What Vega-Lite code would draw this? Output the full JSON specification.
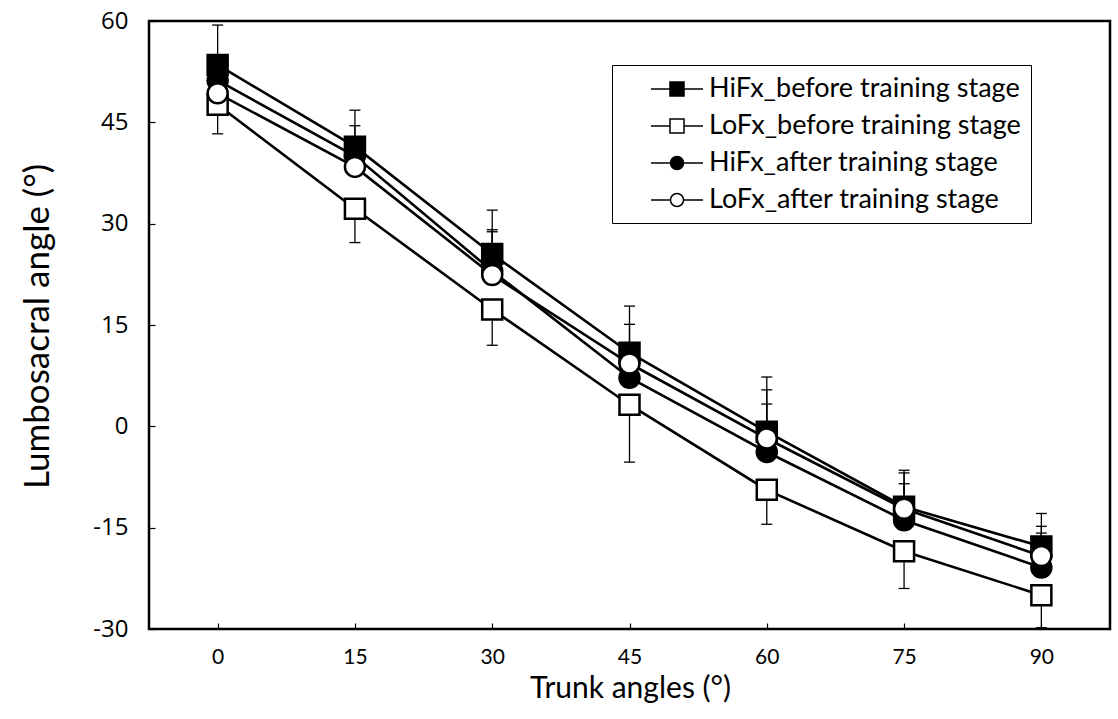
{
  "$schema": "https://vega.github.io/schema/vega-lite/v6.json",
  "width": 961,
  "height": 608,
  "autosize": {"type": "none"},
  "padding": {"left": 149, "top": 21, "right": 8, "bottom": 90},
  "background": "white",
  "config": {
    "view": {"stroke": "black", "strokeWidth": 2.5},
    "axis": {"domain": false, "grid": false, "tickColor": "black", "labelColor": "black", "titleColor": "black", "titleFontWeight": "normal"},
    "legend": {
      "orient": "none",
      "padding": 10,
      "strokeColor": "black",
      "fillColor": "white",
      "labelFont": "Lato",
      "labelFontSize": 27,
      "labelColor": "black",
      "labelLimit": 600,
      "symbolSize": 676,
      "symbolOffset": 41,
      "labelOffset": 18,
      "rowPadding": 10
    }
  },
  "data": {
    "values": [
      {"series": "HiFx_before training stage", "angle": "0", "mean": 53.5, "err": 59.4},
      {"series": "HiFx_before training stage", "angle": "15", "mean": 41.4, "err": 46.8},
      {"series": "HiFx_before training stage", "angle": "30", "mean": 25.5, "err": 32.0},
      {"series": "HiFx_before training stage", "angle": "45", "mean": 10.9, "err": 17.8},
      {"series": "HiFx_before training stage", "angle": "60", "mean": -0.8, "err": 7.3},
      {"series": "HiFx_before training stage", "angle": "75", "mean": -11.9, "err": -6.5},
      {"series": "HiFx_before training stage", "angle": "90", "mean": -17.8, "err": -12.9},
      {"series": "LoFx_before training stage", "angle": "0", "mean": 47.6, "err": 43.3},
      {"series": "LoFx_before training stage", "angle": "15", "mean": 32.2, "err": 27.2},
      {"series": "LoFx_before training stage", "angle": "30", "mean": 17.3, "err": 12.0},
      {"series": "LoFx_before training stage", "angle": "45", "mean": 3.2, "err": -5.3},
      {"series": "LoFx_before training stage", "angle": "60", "mean": -9.4, "err": -14.5},
      {"series": "LoFx_before training stage", "angle": "75", "mean": -18.5, "err": -24.0},
      {"series": "LoFx_before training stage", "angle": "90", "mean": -25.0, "err": -29.8},
      {"series": "HiFx_after training stage", "angle": "0", "mean": 51.2, "err": 54.0},
      {"series": "HiFx_after training stage", "angle": "15", "mean": 40.0, "err": 42.5},
      {"series": "HiFx_after training stage", "angle": "30", "mean": 23.0, "err": 28.8},
      {"series": "HiFx_after training stage", "angle": "45", "mean": 7.2, "err": 12.0},
      {"series": "HiFx_after training stage", "angle": "60", "mean": -3.8, "err": 3.3},
      {"series": "HiFx_after training stage", "angle": "75", "mean": -13.9, "err": -8.5},
      {"series": "HiFx_after training stage", "angle": "90", "mean": -20.9, "err": -15.8},
      {"series": "LoFx_after training stage", "angle": "0", "mean": 49.3, "err": 53.0},
      {"series": "LoFx_after training stage", "angle": "15", "mean": 38.4, "err": 44.5},
      {"series": "LoFx_after training stage", "angle": "30", "mean": 22.4, "err": 29.1},
      {"series": "LoFx_after training stage", "angle": "45", "mean": 9.3, "err": 15.1},
      {"series": "LoFx_after training stage", "angle": "60", "mean": -1.8, "err": 5.4},
      {"series": "LoFx_after training stage", "angle": "75", "mean": -12.2, "err": -6.9},
      {"series": "LoFx_after training stage", "angle": "90", "mean": -19.2, "err": -14.8}
    ]
  },
  "encoding": {
    "x": {
      "field": "angle",
      "type": "ordinal",
      "sort": ["0", "15", "30", "45", "60", "75", "90"],
      "scale": {"type": "point", "padding": 0.5},
      "axis": {
        "title": "Trunk angles (°)",
        "labelAngle": 0,
        "labelFont": "Lato",
        "labelFontSize": 21,
        "labelPadding": 23,
        "tickSize": -6,
        "tickWidth": 1.2,
        "titleFont": "Lato",
        "titleFontSize": 30,
        "titleX": 481,
        "titleY": 59,
        "titleBaseline": "middle",
        "titleAlign": "center"
      }
    }
  },
  "layer": [
    {
      "mark": {"type": "rule", "color": "black", "strokeWidth": 1.3},
      "encoding": {
        "y": {
          "field": "mean",
          "type": "quantitative",
          "scale": {"domain": [-30, 60], "nice": false, "zero": false},
          "axis": {
            "title": "Lumbosacral angle (°)",
            "values": [-30, -15, 0, 15, 30, 45, 60],
            "labelExpr": "'' + datum.value",
            "labelFont": "Open Sans",
            "labelFontSize": 24,
            "labelPadding": 27,
            "tickSize": -6,
            "tickWidth": 1.2,
            "titleFont": "Lato",
            "titleFontSize": 35,
            "titleAngle": -90,
            "titleX": -112,
            "titleY": 305,
            "titleBaseline": "middle",
            "titleAlign": "center"
          }
        },
        "y2": {"field": "err"}
      }
    },
    {
      "mark": {"type": "tick", "orient": "horizontal", "color": "black", "size": 11, "thickness": 1.3, "opacity": 1},
      "encoding": {
        "y": {"field": "err", "type": "quantitative"}
      }
    },
    {
      "mark": {"type": "line", "color": "black", "strokeWidth": 2.6},
      "encoding": {
        "y": {"field": "mean", "type": "quantitative"},
        "detail": {"field": "series", "type": "nominal"}
      }
    },
    {
      "mark": {"type": "point", "filled": true, "stroke": "black", "strokeWidth": 2.5, "opacity": 1},
      "encoding": {
        "y": {"field": "mean", "type": "quantitative"},
        "shape": {
          "field": "series",
          "type": "nominal",
          "scale": {
            "domain": ["HiFx_before training stage", "LoFx_before training stage", "HiFx_after training stage", "LoFx_after training stage"],
            "range": ["square", "square", "circle", "circle"]
          },
          "legend": null
        },
        "fill": {
          "field": "series",
          "type": "nominal",
          "scale": {
            "domain": ["HiFx_before training stage", "LoFx_before training stage", "HiFx_after training stage", "LoFx_after training stage"],
            "range": ["black", "white", "black", "white"]
          },
          "legend": null
        },
        "size": {
          "field": "series",
          "type": "nominal",
          "scale": {
            "domain": ["HiFx_before training stage", "LoFx_before training stage", "HiFx_after training stage", "LoFx_after training stage"],
            "range": [400, 400, 300, 300]
          },
          "legend": null
        }
      }
    },
    {
      "transform": [{"filter": "datum.mean > 1000"}],
      "mark": {"type": "point", "filled": true, "stroke": "black", "strokeWidth": 2.2, "opacity": 1, "size": 676},
      "encoding": {
        "y": {"field": "mean", "type": "quantitative"},
        "shape": {
          "field": "series",
          "type": "nominal",
          "scale": {
            "domain": ["HiFx_before training stage", "LoFx_before training stage", "HiFx_after training stage", "LoFx_after training stage"],
            "range": [
              "M-2,0H-0.54M0.54,0H2M-0.54,-0.54H0.54V0.54H-0.54Z",
              "M-2,0H-0.54M0.54,0H2M-0.54,-0.54H0.54V0.54H-0.54Z",
              "M-2,0H-0.5M0.5,0H2M-0.5,0A0.5,0.5,0,1,0,0.5,0A0.5,0.5,0,1,0,-0.5,0Z",
              "M-2,0H-0.5M0.5,0H2M-0.5,0A0.5,0.5,0,1,0,0.5,0A0.5,0.5,0,1,0,-0.5,0Z"
            ]
          },
          "legend": {
            "title": null,
            "orient": "none",
            "legendX": 463,
            "legendY": 44,
            "encode": {
              "symbols": {"update": {"stroke": {"value": "black"}, "strokeWidth": {"value": 2.2}, "opacity": {"value": 1}}},
              "labels": {"update": {"text": {"signal": "datum.label + '\u2003\u2003'"}}},
              "legend": {"update": {"strokeWidth": {"value": 1.5}}}
            }
          }
        },
        "fill": {
          "field": "series",
          "type": "nominal",
          "scale": {
            "domain": ["HiFx_before training stage", "LoFx_before training stage", "HiFx_after training stage", "LoFx_after training stage"],
            "range": ["black", "white", "black", "white"]
          },
          "legend": {
            "title": null,
            "orient": "none",
            "legendX": 463,
            "legendY": 44,
            "encode": {
              "symbols": {"update": {"stroke": {"value": "black"}, "strokeWidth": {"value": 2.2}, "opacity": {"value": 1}}},
              "labels": {"update": {"text": {"signal": "datum.label + '\u2003\u2003'"}}},
              "legend": {"update": {"strokeWidth": {"value": 1.5}}}
            }
          }
        }
      }
    }
  ],
  "resolve": {"scale": {"shape": "independent", "fill": "independent", "size": "independent"}, "legend": {"shape": "independent", "fill": "independent"}}
}
